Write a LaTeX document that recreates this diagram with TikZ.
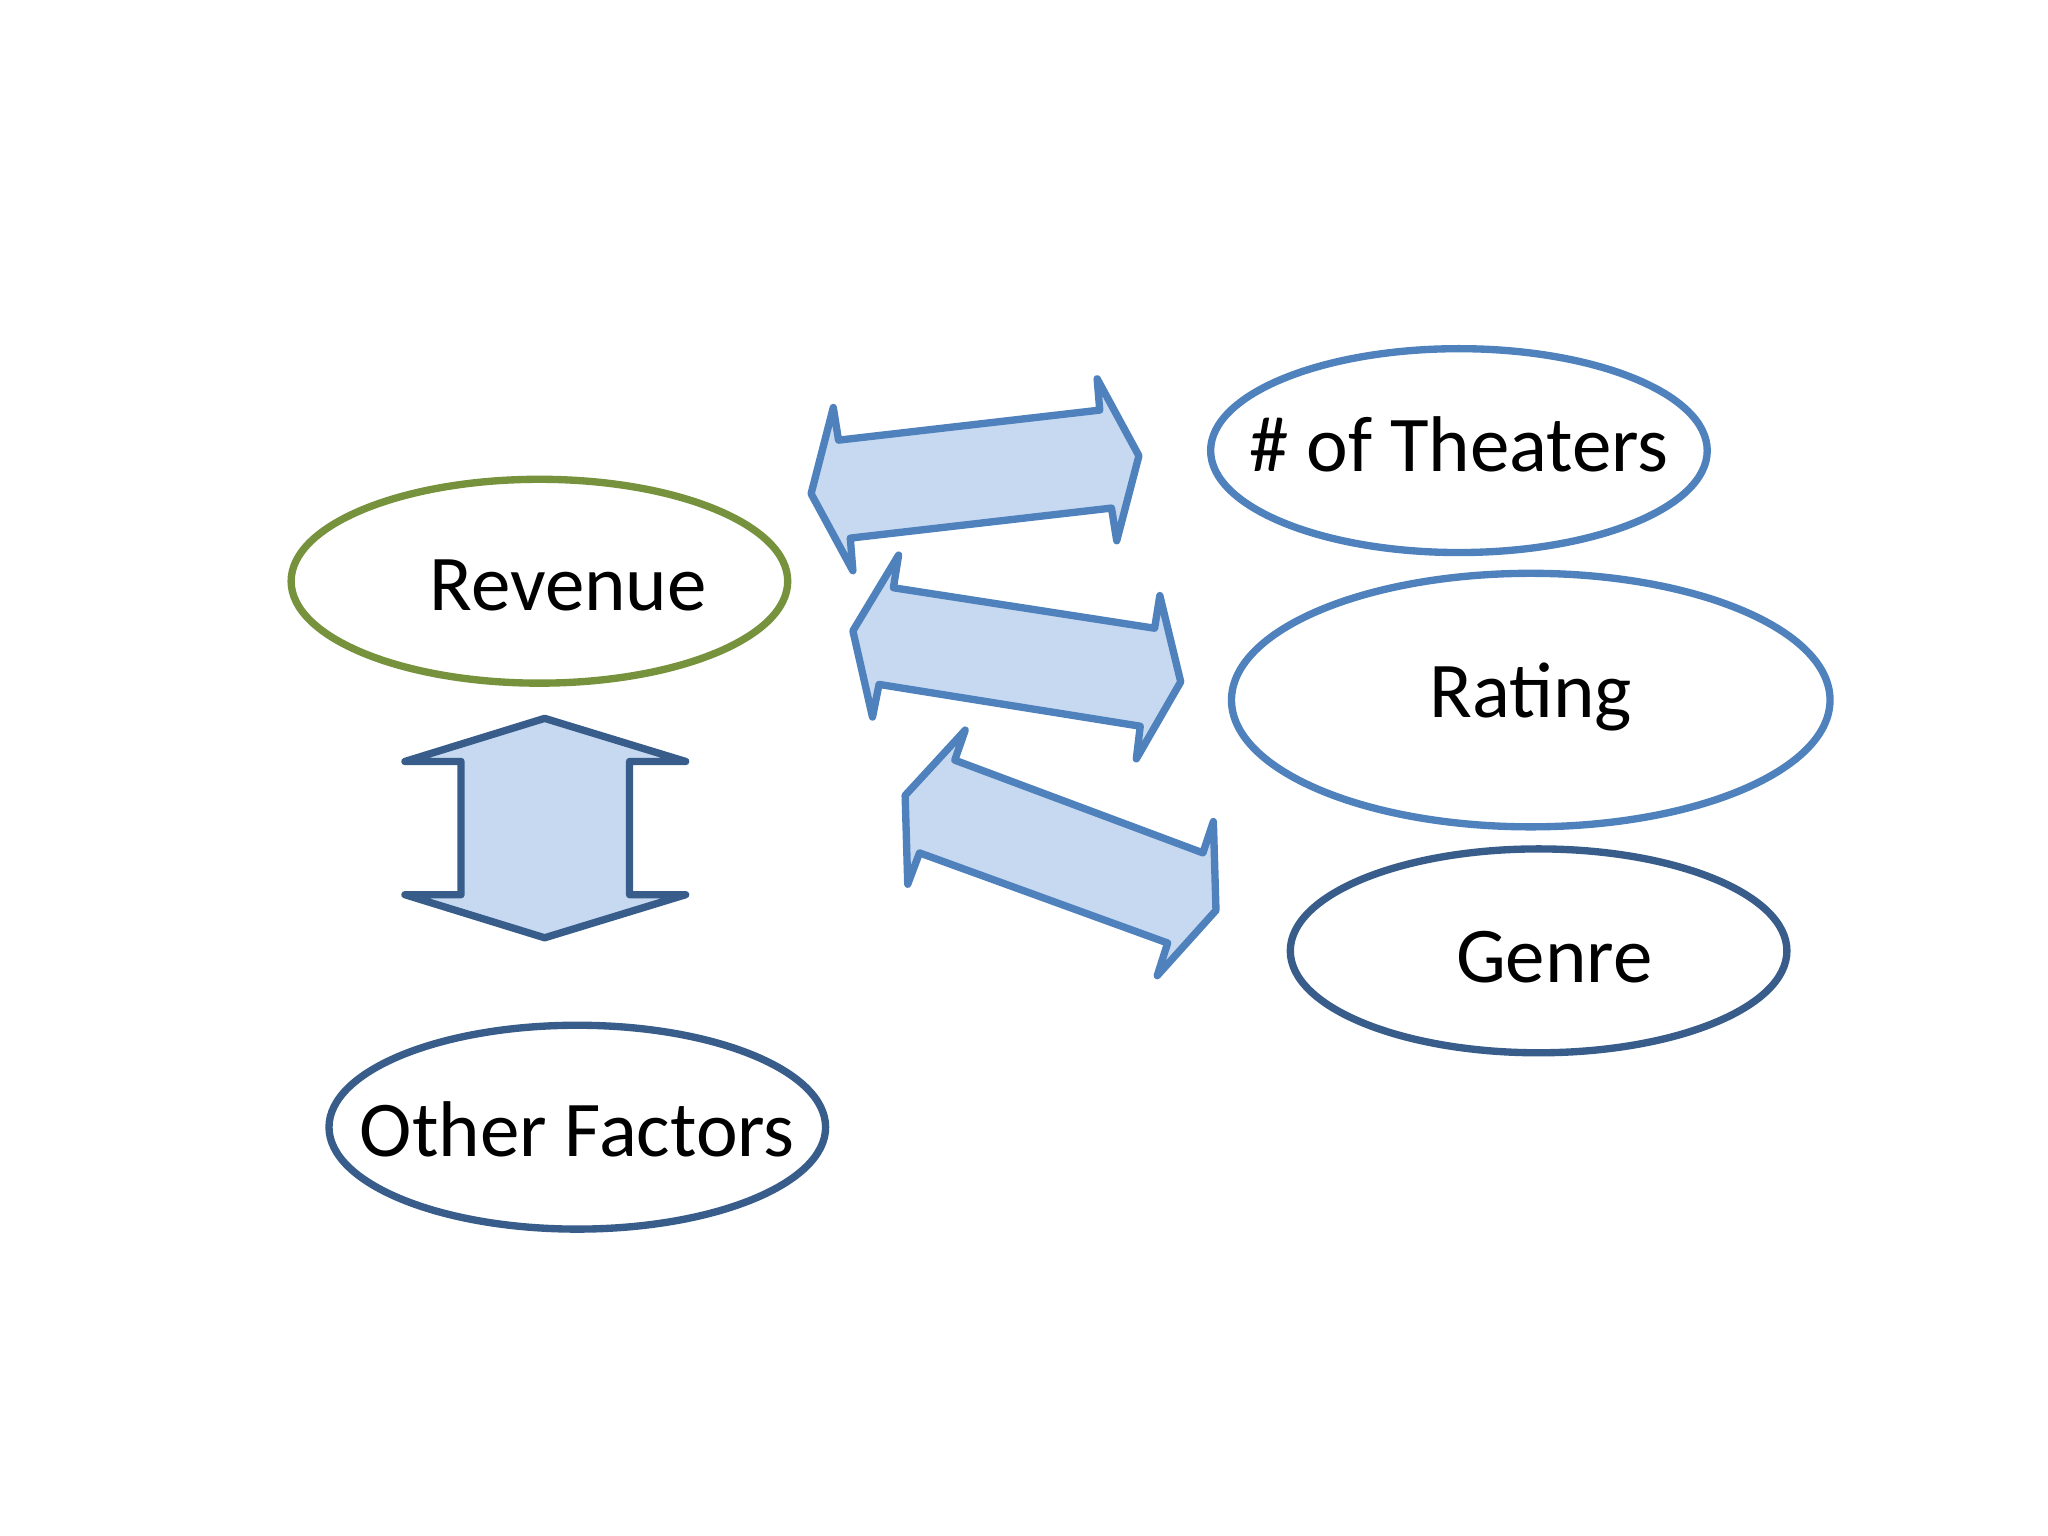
\documentclass[tikz,border=0pt]{standalone}
\usepackage{fontspec}
\setmainfont{Carlito}
\usetikzlibrary{shapes.geometric}
\definecolor{olive}{RGB}{118,146,60}
\definecolor{blu}{RGB}{79,129,189}
\definecolor{dblu}{RGB}{56,93,138}
\definecolor{afill}{RGB}{198,217,240}
\begin{document}
\begin{tikzpicture}[x=0.01cm,y=-0.01cm,
  ell/.style={ellipse,draw,line width=1.6pt,fill=white,inner sep=0pt},
  txt/.style={font=\fontsize{17.2}{20}\selectfont},
  arr/.style={draw,fill=afill,line width=1.6pt,line join=round}]
\useasboundingbox (0,0) rectangle (1568,1176);
\node[ell,draw=olive,minimum width=3.8cm,minimum height=1.56cm] (rev) at (413,445) {};
\node[txt] at (435,448) {Revenue};
\node[ell,draw=blu,minimum width=3.8cm,minimum height=1.56cm] (th) at (1117,345) {};
\node[txt] at (1117,340) {\# of Theaters};
\node[ell,draw=blu,minimum width=4.58cm,minimum height=1.94cm] (ra) at (1172,536) {};
\node[txt] at (1172,534) {Rating};
\node[ell,draw=dblu,minimum width=3.8cm,minimum height=1.56cm] (ge) at (1178,728) {};
\node[txt] at (1190,733) {Genre};
\node[ell,draw=dblu,minimum width=3.8cm,minimum height=1.56cm] (of) at (442,863) {};
\node[txt] at (442,865) {Other Factors};
\draw[arr,draw=dblu] (417,550)--(525,583)--(482,583)--(482,685)--(525,685)--(417,718)--(310,685)--(353,685)--(353,583)--(310,583)--cycle;
\draw[arr,draw=blu] (638,312)--(642,337)--(842,314)--(840,290)--(872,349)--(855,414)--(851,389)--(651,412)--(653,437)--(621,378)--cycle;
\draw[arr,draw=blu] (688,425)--(684,450)--(884,481)--(888,456)--(904,522)--(870,581)--(873,556)--(673,524)--(668,549)--(653,483)--cycle;
\draw[arr,draw=blu] (739,559)--(731,582)--(921,653)--(929,629)--(931,697)--(886,747)--(894,722)--(704,653)--(695,677)--(693,609)--cycle;
\end{tikzpicture}
\end{document}
